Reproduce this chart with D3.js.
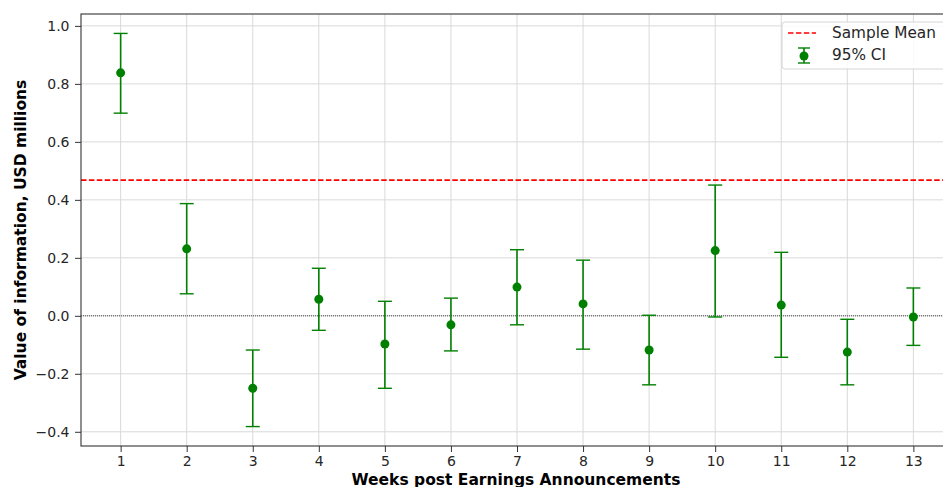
<!DOCTYPE html>
<html>
<head>
<meta charset="utf-8">
<script src="https://cdn.jsdelivr.net/npm/d3@7"></script>
<style>
  html, body { margin: 0; padding: 0; background: #fff; }
  svg { display: block; font-family: "DejaVu Sans", sans-serif; }
</style>
</head>
<body>
<svg id="chart" width="943" height="487"></svg>
<script>
// ---- data ----
const weeks = [1, 2, 3, 4, 5, 6, 7, 8, 9, 10, 11, 12, 13];
const values = [0.838, 0.231, -0.250, 0.057, -0.097, -0.031, 0.099, 0.041, -0.118, 0.225, 0.037, -0.125, -0.004];
const ciLower = [0.699, 0.076, -0.382, -0.050, -0.250, -0.121, -0.031, -0.115, -0.238, -0.004, -0.143, -0.238, -0.102];
const ciUpper = [0.974, 0.387, -0.118, 0.164, 0.050, 0.061, 0.228, 0.192, 0.002, 0.451, 0.219, -0.012, 0.096];
const sampleMean = 0.468;
const yTicks = [-0.4, -0.2, 0.0, 0.2, 0.4, 0.6, 0.8, 1.0];
const xLabel = "Weeks post Earnings Announcements";
const yLabel = "Value of information, USD millions";
const legendLabels = ["Sample Mean", "95% CI"];

// ---- layout ----
const svg = d3.select("#chart");
const pL = 81, pR = 953, pT = 14, pB = 446;
const x = d3.scaleLinear().domain([0.4, 13.6]).range([pL, pR]);
const y = d3.scaleLinear().domain([-0.449, 1.041]).range([pB, pT]);
const green = "#008000";
const tickFont = "14px";
const labelFont = "15.5px";

// grid
const g = svg.append("g");
g.selectAll(".vg").data(weeks).join("line")
  .attr("x1", d => x(d)).attr("x2", d => x(d))
  .attr("y1", pT).attr("y2", pB)
  .attr("stroke", "#d9d9d9").attr("stroke-width", 1);
g.selectAll(".hg").data(yTicks).join("line")
  .attr("x1", pL).attr("x2", pR)
  .attr("y1", d => y(d)).attr("y2", d => y(d))
  .attr("stroke", "#d9d9d9").attr("stroke-width", 1);

// zero line
svg.append("line")
  .attr("x1", pL).attr("x2", pR)
  .attr("y1", y(0)).attr("y2", y(0))
  .attr("stroke", "#000").attr("stroke-width", 0.7)
  .attr("stroke-dasharray", "1,1");

// mean line
svg.append("line")
  .attr("x1", pL).attr("x2", pR)
  .attr("y1", y(sampleMean)).attr("y2", y(sampleMean))
  .attr("stroke", "#ff0000").attr("stroke-width", 1.6)
  .attr("stroke-dasharray", "5.5,2.4");

// error bars
const eb = svg.append("g");
const capHalf = 7;
weeks.forEach((w, i) => {
  eb.append("line")
    .attr("x1", x(w)).attr("x2", x(w))
    .attr("y1", y(ciLower[i])).attr("y2", y(ciUpper[i]))
    .attr("stroke", green).attr("stroke-width", 1.6);
  [ciLower[i], ciUpper[i]].forEach(v => {
    eb.append("line")
      .attr("x1", x(w) - capHalf).attr("x2", x(w) + capHalf)
      .attr("y1", y(v)).attr("y2", y(v))
      .attr("stroke", green).attr("stroke-width", 1.4);
  });
  eb.append("circle")
    .attr("cx", x(w)).attr("cy", y(values[i])).attr("r", 4.5)
    .attr("fill", green);
});

// axes
const yAxis = svg.append("g").attr("transform", `translate(${pL},0)`)
  .call(d3.axisLeft(y).tickValues(yTicks).tickSize(6).tickPadding(5.5)
    .tickFormat(d => d3.format(".1f")(d).replace("-", "\u2212")));
const xAxis = svg.append("g").attr("transform", `translate(0,${pB})`)
  .call(d3.axisBottom(x).tickValues(weeks).tickSize(6).tickPadding(4)
    .tickFormat(d3.format("d")));
[xAxis, yAxis].forEach(a => {
  a.select(".domain").remove();
  a.selectAll("text").attr("font-size", tickFont).attr("fill", "#262626")
    .attr("font-family", "DejaVu Sans");
  a.selectAll("line").attr("stroke", "#333").attr("stroke-width", 1);
});

// spines
svg.append("rect")
  .attr("x", pL).attr("y", pT)
  .attr("width", pR - pL).attr("height", pB - pT)
  .attr("fill", "none").attr("stroke", "#333").attr("stroke-width", 1.1);

// labels
svg.append("text")
  .attr("x", (pL + pR) / 2 - 1).attr("y", 484.5)
  .attr("text-anchor", "middle").attr("font-size", labelFont)
  .attr("font-weight", "bold").attr("fill", "#000")
  .text(xLabel);
svg.append("text")
  .attr("transform", `translate(25.5,${(pT + pB) / 2}) rotate(-90)`)
  .attr("text-anchor", "middle")
  .attr("font-size", labelFont).attr("font-weight", "bold").attr("fill", "#000")
  .text(yLabel);

// legend
const lg = svg.append("g");
lg.append("rect")
  .attr("x", 782).attr("y", 22).attr("width", 166).attr("height", 47)
  .attr("rx", 3).attr("fill", "#fff").attr("fill-opacity", 0.85)
  .attr("stroke", "#d6d6d6").attr("stroke-width", 1);
lg.append("line")
  .attr("x1", 788).attr("x2", 816).attr("y1", 33).attr("y2", 33)
  .attr("stroke", "#ff0000").attr("stroke-width", 1.6)
  .attr("stroke-dasharray", "5.5,2.4");
lg.append("line")
  .attr("x1", 804).attr("x2", 804).attr("y1", 48).attr("y2", 63)
  .attr("stroke", green).attr("stroke-width", 1.6);
[48, 63].forEach(cy => {
  lg.append("line")
    .attr("x1", 798).attr("x2", 810).attr("y1", cy).attr("y2", cy)
    .attr("stroke", green).attr("stroke-width", 1.4);
});
lg.append("circle").attr("cx", 804).attr("cy", 56).attr("r", 4.5).attr("fill", green);
lg.selectAll(".lt").data(legendLabels).join("text")
  .attr("x", 832).attr("y", (d, i) => 33 + i * 22)
  .attr("dominant-baseline", "central")
  .attr("font-size", "15.3px").attr("fill", "#262626")
  .text(d => d);
</script>
</body>
</html>
